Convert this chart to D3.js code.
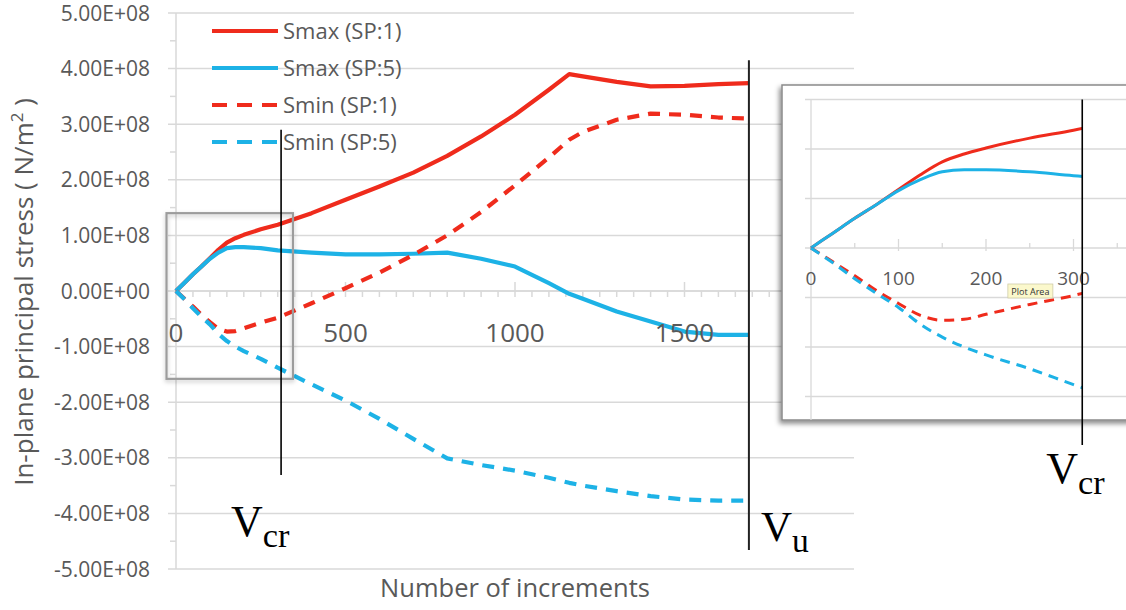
<!DOCTYPE html>
<html>
<head>
<meta charset="utf-8">
<script src="https://cdn.jsdelivr.net/npm/d3@7"></script>
<style>
  html, body { margin: 0; padding: 0; background: #fff; }
  svg { display: block; }
</style>
</head>
<body>
<svg id="chart" width="1126" height="610"></svg>
<script>
// Principal stress history of two sample points, values in units of 1e8 N/m²
const STRESS_UNIT = 1e8;
const increments = [0, 25, 50, 75, 100, 125, 150, 175, 200, 250, 300, 400, 500, 600, 700, 800, 900, 1000, 1100, 1160, 1200, 1300, 1400, 1500, 1600, 1690];
const smaxSP1 = [0, 0.15, 0.30, 0.44, 0.59, 0.74, 0.87, 0.95, 1.01, 1.11, 1.19, 1.40, 1.64, 1.88, 2.13, 2.43, 2.78, 3.17, 3.62, 3.90, 3.86, 3.76, 3.68, 3.69, 3.72, 3.74];
const smaxSP5 = [0, 0.15, 0.30, 0.44, 0.58, 0.69, 0.77, 0.79, 0.79, 0.77, 0.73, 0.69, 0.66, 0.66, 0.67, 0.69, 0.58, 0.44, 0.14, -0.05, -0.14, -0.37, -0.55, -0.73, -0.79, -0.79];
const sminSP1 = [0, -0.14, -0.28, -0.43, -0.56, -0.68, -0.73, -0.72, -0.67, -0.57, -0.48, -0.22, 0.05, 0.33, 0.65, 1.00, 1.42, 1.90, 2.40, 2.72, 2.86, 3.08, 3.19, 3.17, 3.12, 3.10];
const sminSP5 = [0, -0.15, -0.31, -0.46, -0.60, -0.77, -0.90, -1.00, -1.08, -1.22, -1.38, -1.68, -1.97, -2.30, -2.66, -3.01, -3.13, -3.23, -3.36, -3.45, -3.50, -3.60, -3.69, -3.75, -3.77, -3.77];

const seriesNames = ["Smax (SP:1)", "Smax (SP:5)", "Smin (SP:1)", "Smin (SP:5)"];
const seriesValues = [smaxSP1, smaxSP5, sminSP1, sminSP5];

const xTicksMain = [0, 500, 1000, 1500, 2000];
const yTicksMain = [5, 4, 3, 2, 1, 0, -1, -2, -3, -4, -5];
const xTicksInset = [0, 100, 200, 300];
const yTicksInset = [1.5, 1.0, 0.5, 0, -0.5, -1.0, -1.5];

// Critical and ultimate load steps (increments)
const vCrIncrement = 310;
const vUIncrement = 1690;

// Region of the main plot that is magnified in the inset
const zoomIncRange = [-28, 345];
const zoomValRange = [-1.58, 1.40];

const RED = "#ef2b1c", BLUE = "#1db2e6";
const GRID = "#d9d9d9", TEXT = "#595959";
const FONT = "'Open Sans', 'DejaVu Sans', sans-serif";
const SERIF = "'Liberation Serif', 'DejaVu Serif', serif";

const styles = [
  { color: RED, dash: null },
  { color: BLUE, dash: null },
  { color: RED, dash: "12,9" },
  { color: BLUE, dash: "12,9" }
];

const series = seriesNames.map((name, i) => ({
  name,
  ...styles[i],
  points: increments.map((inc, j) => ({ inc, v: seriesValues[i][j] * STRESS_UNIT }))
}));

const svg = d3.select("#chart");
const defs = svg.append("defs");

const shadow = defs.append("filter").attr("id", "shadow")
  .attr("x", "-20%").attr("y", "-20%").attr("width", "140%").attr("height", "140%");
shadow.append("feDropShadow").attr("dx", -2).attr("dy", 3).attr("stdDeviation", 2.5)
  .attr("flood-color", "#000").attr("flood-opacity", 0.45);

const softShadow = defs.append("filter").attr("id", "softShadow")
  .attr("x", "-20%").attr("y", "-20%").attr("width", "140%").attr("height", "140%");
softShadow.append("feDropShadow").attr("dx", 0).attr("dy", 2).attr("stdDeviation", 2)
  .attr("flood-color", "#000").attr("flood-opacity", 0.25);

// ---------- main plot ----------
const x = d3.scaleLinear().domain([0, 2000]).range([176, 854]);
const y = d3.scaleLinear().domain([-5e8, 5e8]).range([569, 13]);

const main = svg.append("g");

// horizontal gridlines
main.append("g").selectAll("line").data(yTicksMain).join("line")
  .attr("x1", x(0) - 8).attr("x2", x(2000))
  .attr("y1", d => y(d * STRESS_UNIT)).attr("y2", d => y(d * STRESS_UNIT))
  .attr("stroke", GRID).attr("stroke-width", 1.5);

// minor y ticks between gridlines
main.append("g").selectAll("line").data(d3.range(-4.5, 5, 1)).join("line")
  .attr("x1", x(0) - 6).attr("x2", x(0))
  .attr("y1", d => y(d * STRESS_UNIT)).attr("y2", d => y(d * STRESS_UNIT))
  .attr("stroke", GRID).attr("stroke-width", 1.5);

// y axis line
main.append("line")
  .attr("x1", x(0)).attr("x2", x(0)).attr("y1", y(5e8)).attr("y2", y(-5e8))
  .attr("stroke", GRID).attr("stroke-width", 1.5);

// y tick labels
const expFmt = d => {
  const [m, e] = d.toExponential(2).split("e");
  return m + "E" + e[0] + e.slice(1).padStart(2, "0");
};
main.append("g").selectAll("text").data(yTicksMain).join("text")
  .attr("x", 150).attr("y", d => y(d * STRESS_UNIT)).attr("dy", "0.36em")
  .attr("text-anchor", "end").attr("font-family", FONT).attr("font-size", 21)
  .attr("fill", TEXT).text(d => expFmt(d * STRESS_UNIT));

// x axis through zero
main.append("line")
  .attr("x1", x(0)).attr("x2", x(2000)).attr("y1", y(0)).attr("y2", y(0))
  .attr("stroke", GRID).attr("stroke-width", 1.5);
main.append("g").selectAll("line").data(d3.range(50, 2001, 50).filter(d => d % 500 !== 0)).join("line")
  .attr("x1", d => x(d)).attr("x2", d => x(d)).attr("y1", y(0)).attr("y2", y(0) + 6)
  .attr("stroke", GRID).attr("stroke-width", 1.5);
main.append("g").selectAll("line").data(xTicksMain.filter(d => d > 0)).join("line")
  .attr("x1", d => x(d)).attr("x2", d => x(d)).attr("y1", y(0) - 9).attr("y2", y(0) + 6)
  .attr("stroke", GRID).attr("stroke-width", 1.5);

// curves
const line = d3.line().x(d => x(d.inc)).y(d => y(d.v)).curve(d3.curveLinear);
main.append("g").selectAll("path").data(series).join("path")
  .attr("d", d => line(d.points))
  .attr("fill", "none").attr("stroke", d => d.color).attr("stroke-width", 4.2)
  .attr("stroke-dasharray", d => d.dash)
  .attr("stroke-linejoin", "round");

// x tick labels
main.append("g").selectAll("text").data(xTicksMain).join("text")
  .attr("x", d => x(d)).attr("y", y(0) + 51)
  .attr("text-anchor", "middle").attr("font-family", FONT).attr("font-size", 26)
  .attr("fill", TEXT).text(d => d);

// magnified region marker
main.append("rect")
  .attr("x", x(zoomIncRange[0])).attr("y", y(zoomValRange[1] * STRESS_UNIT))
  .attr("width", x(zoomIncRange[1]) - x(zoomIncRange[0]))
  .attr("height", y(zoomValRange[0] * STRESS_UNIT) - y(zoomValRange[1] * STRESS_UNIT))
  .attr("fill", "none").attr("stroke", "#9c9c9c").attr("stroke-width", 2.2)
  .attr("filter", "url(#softShadow)");

// V_cr and V_u markers
main.append("line")
  .attr("x1", x(vCrIncrement)).attr("x2", x(vCrIncrement))
  .attr("y1", y(2.9e8)).attr("y2", y(-3.31e8))
  .attr("stroke", "#000").attr("stroke-width", 1.6);
main.append("line")
  .attr("x1", x(vUIncrement)).attr("x2", x(vUIncrement))
  .attr("y1", y(4.15e8)).attr("y2", y(-4.66e8))
  .attr("stroke", "#222").attr("stroke-width", 2);

function vLabel(g, xPos, yPos, sub, size) {
  const t = g.append("text").attr("x", xPos).attr("y", yPos)
    .attr("font-family", SERIF).attr("font-size", size).attr("fill", "#000");
  t.append("tspan").text("V");
  t.append("tspan").attr("font-size", size * 0.78).attr("dy", size * 0.25).text(sub);
}
vLabel(main, x(vCrIncrement) - 50, y(-4.4e8), "cr", 44);
vLabel(main, x(vUIncrement) + 12, y(-4.5e8), "u", 43);

// legend
const legend = main.append("g");
const legendY = [31, 68, 105, 142];
series.forEach((s, i) => {
  legend.append("line")
    .attr("x1", 212).attr("x2", 278).attr("y1", legendY[i]).attr("y2", legendY[i])
    .attr("stroke", s.color).attr("stroke-width", 4)
    .attr("stroke-dasharray", s.dash ? "15,10" : null);
  legend.append("text")
    .attr("x", 283).attr("y", legendY[i]).attr("dy", "0.36em")
    .attr("font-family", FONT).attr("font-size", 22).attr("fill", TEXT)
    .text(s.name);
});

// axis titles
svg.append("text")
  .attr("x", (x(0) + x(2000)) / 2).attr("y", 597)
  .attr("text-anchor", "middle").attr("font-family", FONT).attr("font-size", 25.5)
  .attr("fill", TEXT).text("Number of increments");

const yTitle = svg.append("text")
  .attr("transform", "translate(33,292) rotate(-90)")
  .attr("text-anchor", "middle").attr("font-family", FONT).attr("font-size", 26)
  .attr("fill", TEXT);
yTitle.append("tspan").text("In-plane principal stress ( N/m");
yTitle.append("tspan").attr("font-size", 17).attr("dy", -10).text("2");
yTitle.append("tspan").attr("dy", 10).text(" )");

// ---------- inset: magnified early stage ----------
const xi = d3.scaleLinear().domain([0, 360]).range([811, 1126]);
const yi = d3.scaleLinear().domain([-1.5e8, 1.5e8]).range([396.5, 99.5]);
const inset = svg.append("g");
const boxTop = 85, boxBottom = 420, boxLeft = 782;

inset.append("rect")
  .attr("x", boxLeft).attr("y", boxTop).attr("width", 1126 - boxLeft + 20).attr("height", boxBottom - boxTop)
  .attr("fill", "#fff").attr("stroke", "#8a8a8a").attr("stroke-width", 1.5)
  .attr("filter", "url(#shadow)");

inset.append("g").selectAll("line").data(yTicksInset.filter(d => d !== 0)).join("line")
  .attr("x1", xi(0) - 6).attr("x2", 1126)
  .attr("y1", d => yi(d * STRESS_UNIT)).attr("y2", d => yi(d * STRESS_UNIT))
  .attr("stroke", GRID).attr("stroke-width", 1.3);
inset.append("line")
  .attr("x1", xi(0)).attr("x2", xi(0)).attr("y1", yi(1.5e8)).attr("y2", boxBottom)
  .attr("stroke", GRID).attr("stroke-width", 1.3);
inset.append("line")
  .attr("x1", xi(0) - 6).attr("x2", 1126).attr("y1", yi(0)).attr("y2", yi(0))
  .attr("stroke", GRID).attr("stroke-width", 1.3);
inset.append("g").selectAll("line").data(d3.range(50, 360, 50)).join("line")
  .attr("x1", d => xi(d)).attr("x2", d => xi(d))
  .attr("y1", d => yi(0) - (d % 100 === 0 ? 9 : 5)).attr("y2", d => yi(0) + (d % 100 === 0 ? 3 : 0))
  .attr("stroke", GRID).attr("stroke-width", 1.3);

inset.append("g").selectAll("text").data(xTicksInset).join("text")
  .attr("x", d => xi(d)).attr("y", yi(0) + 37)
  .attr("text-anchor", "middle").attr("font-family", FONT).attr("font-size", 19)
  .attr("fill", TEXT).text(d => d);

defs.append("clipPath").attr("id", "insetClip").append("rect")
  .attr("x", boxLeft).attr("y", boxTop)
  .attr("width", xi(vCrIncrement) - boxLeft).attr("height", boxBottom - boxTop);

// the magnified view uses a smooth curve through the same samples
const lineInset = d3.line().x(d => xi(d.inc)).y(d => yi(d.v)).curve(d3.curveMonotoneX);
inset.append("g").attr("clip-path", "url(#insetClip)")
  .selectAll("path").data(series).join("path")
  .attr("d", d => lineInset(d.points.filter(p => p.inc <= 400)))
  .attr("fill", "none").attr("stroke", d => d.color).attr("stroke-width", 3)
  .attr("stroke-dasharray", d => d.dash ? "10,7" : null)
  .attr("stroke-linejoin", "round");

// chart-tool hover tip
const tip = inset.append("g").attr("transform", `translate(${xi(225)},284)`);
tip.append("rect").attr("width", 45).attr("height", 14)
  .attr("fill", "#fbf8cc").attr("stroke", "#cfcca8").attr("stroke-width", 0.8);
tip.append("text").attr("x", 22.5).attr("y", 10.5).attr("text-anchor", "middle")
  .attr("font-family", FONT).attr("font-size", 9).attr("fill", "#333").text("Plot Area");

inset.append("line")
  .attr("x1", xi(vCrIncrement)).attr("x2", xi(vCrIncrement))
  .attr("y1", yi(1.5e8)).attr("y2", 445)
  .attr("stroke", "#000").attr("stroke-width", 1.6);
vLabel(inset, xi(vCrIncrement) - 36, 483, "cr", 44);
</script>
</body>
</html>
